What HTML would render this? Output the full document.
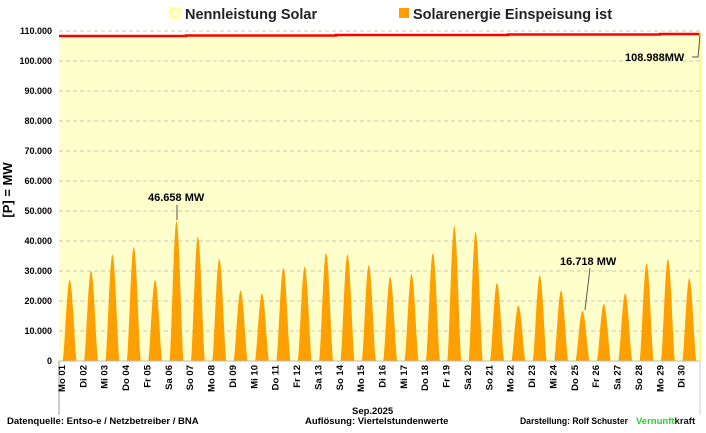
<!DOCTYPE html>
<html><head><meta charset="utf-8"><style>
body{margin:0;background:#fff;width:706px;height:428px;overflow:hidden;font-family:"Liberation Sans",sans-serif}
svg text{font-family:"Liberation Sans",sans-serif;font-weight:bold}
</style></head><body>
<svg id="s" width="706" height="428" xmlns="http://www.w3.org/2000/svg">
<rect x="59" y="31" width="641" height="330" fill="#fff"/>
<path d="M59,36 L186,36 L186,35.5 L336,35.5 L336,35 L508,35 L508,34.5 L660,34.5 L660,34 L700,34 L700,361 L59,361Z" fill="#ffffcc"/>
<g id="grid"></g>
<path id="solar" fill="#ff9f00"/>
<path d="M59,36 L186,36 L186,35.5 L336,35.5 L336,35 L508,35 L508,34.5 L660,34.5 L660,34 L700,34" fill="none" stroke="#ff0000" stroke-width="2.5"/>
<line x1="700" y1="31" x2="700" y2="361" stroke="#ffff00" stroke-width="1"/>
<line x1="59" y1="361" x2="700" y2="361" stroke="#bbb"/>
<line x1="59" y1="361" x2="59" y2="415" stroke="#999"/>
<line x1="700" y1="361" x2="700" y2="415" stroke="#ccc"/>
<g id="lab"></g>
<text x="12" y="190" font-size="13" text-anchor="middle" transform="rotate(-90 12 190)">[P] = MW</text>
<rect x="170" y="8" width="10" height="10" fill="#ffffcc" stroke="#ffff66"/>
<text x="185" y="19" font-size="14.5" fill="#222">Nennleistung Solar</text>
<rect x="399" y="8" width="10" height="10" fill="#ff9f00"/>
<text x="413" y="19" font-size="14.5" fill="#222">Solarenergie Einspeisung ist</text>
<text x="148" y="201" font-size="11">46.658 MW</text>
<line x1="177" y1="205" x2="177" y2="220" stroke="#555"/>
<text x="560" y="265" font-size="11">16.718 MW</text>
<line x1="590" y1="268" x2="585" y2="310" stroke="#555"/>
<text x="625" y="61" font-size="11">108.988MW</text>
<path d="M692,57 L698,57 L700,35" fill="none" stroke="#555"/>
<text x="352" y="414" font-size="9.5">Sep.2025</text>
<text x="7" y="424" font-size="9.5">Datenquelle:  Entso-e  / Netzbetreiber / BNA</text>
<text x="305" y="424" font-size="9.5">Auflösung: Viertelstundenwerte</text>
<text x="520" y="424" font-size="9.5" textLength="108" lengthAdjust="spacingAndGlyphs">Darstellung:  Rolf Schuster</text>
<text x="636" y="424" font-size="9.5" fill="#33cc33">Vernunft<tspan fill="#111">kraft</tspan></text>
</svg>
<script>
const ns="http://www.w3.org/2000/svg";
const g=document.getElementById('grid'),lab=document.getElementById('lab');
function el(t,a,p,txt){const e=document.createElementNS(ns,t);for(const k in a)e.setAttribute(k,a[k]);if(txt)e.textContent=txt;p.appendChild(e);return e;}
for(let v=0;v<=110;v+=10){const y=361-v*3;
 if(v>0)el('line',{x1:59,x2:700,y1:y,y2:y,stroke:'#c8c8b0','stroke-dasharray':'4,3'},g);
 el('text',{x:52,y:y+3,'font-size':9,'text-anchor':'end'},lab,v==0?'0':v+'.000');}
const pk=[27,30,35.5,38,27,46.658,41.5,34,23.5,22.5,31,31.5,36,35.5,32,28,29,36,45,43,26,18.5,28.5,23.5,16.718,19,22.5,32.5,34,27.5];
const days=['Mo','Di','Mi','Do','Fr','Sa','So'];
const dw=641/30;let d='M59,361';
for(let i=0;i<30;i++){const x0=59+i*dw;
 for(let k=0;k<=40;k++){const f=k/40;const x=x0+dw*(0.17+0.66*f);const h=Math.pow(Math.sin(Math.PI*f),1.5)*pk[i];d+=' L'+x.toFixed(2)+','+(361-h*3).toFixed(2);}
 const lx=59+i*dw+6;const nm=days[i%7]+' '+String(i+1).padStart(2,'0');
 el('text',{x:lx,y:365,'font-size':9.5,'text-anchor':'end',transform:`rotate(-90 ${lx} 365)`},lab,nm);}
d+=' L700,361Z';document.getElementById('solar').setAttribute('d',d);
</script>
</body></html>
